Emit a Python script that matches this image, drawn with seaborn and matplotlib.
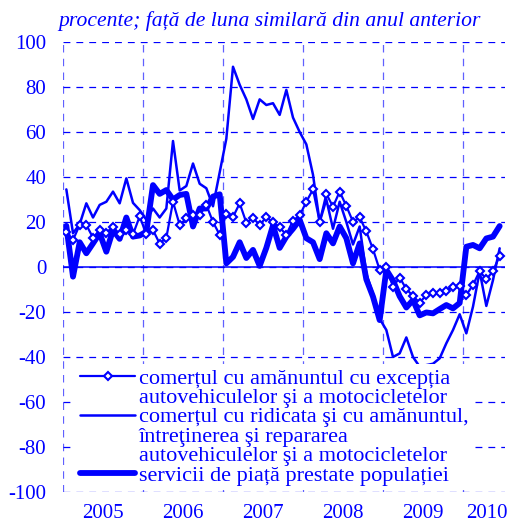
import numpy as np
import pandas as pd
import matplotlib
matplotlib.use("Agg")
import matplotlib.pyplot as plt
import seaborn as sns
from matplotlib.lines import Line2D

# ===============================
# DATA (monthly, Jan 2005 - Jun 2010, % y/y)
# ===============================
start_year = 2005
n_months = 66

retail_excl_auto = [
    15.6, 12, 18.7, 18.7, 13, 16.4, 15.3, 17.8, 14.6, 16.4, 14.5, 22.5,
    14.5, 16.4, 10.4, 13, 29, 18.7, 21.6, 23.1, 23.1, 27.6, 20, 14.3,
    23.7, 22.2, 28.3, 19.7, 21.8, 18.7, 22.2, 19.8, 17.6, 14.3, 20.6, 22.9,
    29, 34.5, 20.1, 32.5, 26.8, 33.5, 27.1, 20.1, 22.1, 15.8, 7.9, -1.3,
    0.1, -8.7, -4.7, -9.8, -12.9, -15.9, -12.4, -11.7, -11.7, -10.5, -8.7, -8.3,
    -12.4, -8, -1.8, -5.5, -1.8, 5,
]
wholesale_retail_auto = [
    34.5, 15, 19, 28.3, 22, 27.6, 29, 33.5, 28.3, 39.4, 28.5, 25.3,
    21, 26, 22, 26, 56, 34, 36, 46, 37, 35, 27, 42,
    57, 89, 81, 74.5, 65.8, 74.5, 72, 72.8, 67.6, 78.7, 66.4, 60,
    54.5, 41, 20, 30, 17, 29, 20, 10, 18, -3, -12, -23,
    -28, -40, -38.4, -31.3, -40, -44.3, -43.6, -43, -40.6, -33.9, -28, -21,
    -29.5, -17.6, -2, -17.3, -5.8, 8.3,
]
market_services = [
    18.3, -4.3, 11, 6.1, 10.5, 15, 6.8, 16.4, 12.5, 22, 13.5, 14,
    15.7, 36.4, 32.5, 34.2, 30, 32, 32.5, 18, 26, 26, 31.3, 32.3,
    1.6, 4.5, 11, 4, 7.6, 0.5, 8.5, 18.5, 8.5, 13.5, 17, 21,
    12.8, 11, 3.5, 15, 10.5, 18, 12.8, 1.6, 10.5, -5.5, -13.2, -23.6,
    -1.3, -6, -13, -18, -14.7, -21.5, -20.2, -20.6, -18.7, -16.9, -18.4, -16,
    9, 9.8, 8.3, 12.7, 13.5, 18.2,
]

year_labels = ["2005", "2006", "2007", "2008", "2009", "2010"]
year_label_pos = [2005.5, 2006.5, 2007.5, 2008.5, 2009.5, 2010.3]
year_bounds = [2005, 2006, 2007, 2008, 2009, 2010]
y_ticks = list(range(-100, 101, 20))

labels = [
    "comerțul cu amănuntul cu excepția",
    "autovehiculelor şi a motocicletelor",
    "comerțul cu ridicata şi cu amănuntul,",
    "întreţinerea şi repararea",
    "autovehiculelor şi a motocicletelor",
    "servicii de piață prestate populației",
]
title = "procente; față de luna similară din anul anterior"

df = pd.DataFrame({
    "t": start_year + (np.arange(n_months) + 0.5) / 12,
    "retail": retail_excl_auto,
    "wholesale": wholesale_retail_auto,
    "services": market_services,
})

# ===============================
# STYLE
# ===============================
sns.set_theme(style="white")
plt.rcParams["font.family"] = ["Liberation Serif", "DejaVu Serif"]
BLUE = "#0000FF"
FS = 15

fig = plt.figure(figsize=(5.18, 5.25), dpi=100)
ax = fig.add_axes([63 / 518, 1 - 492 / 525, 442 / 518, 450 / 525])

sns.lineplot(data=df, x="t", y="services", ax=ax, color=BLUE, lw=4.2,
             solid_joinstyle="round", solid_capstyle="round", zorder=2)
sns.lineplot(data=df, x="t", y="wholesale", ax=ax, color=BLUE, lw=1.8,
             solid_joinstyle="round", zorder=3)
sns.lineplot(data=df, x="t", y="retail", ax=ax, color=BLUE, lw=1.6,
             marker="D", markersize=4.5, markerfacecolor="white",
             markeredgecolor=BLUE, markeredgewidth=1.5, zorder=4)

ax.set_xlim(2005, 2005 + 442 / 80)
ax.set_ylim(-100, 100)
ax.set_xlabel("")
ax.set_ylabel("")
for s in ax.spines.values():
    s.set_visible(False)

ax.set_yticks(y_ticks)
ax.set_yticklabels([str(v) for v in y_ticks])
ax.set_xticks(year_label_pos)
ax.set_xticklabels(year_labels)
ax.set_xticks(year_bounds, minor=True)
ax.tick_params(axis="both", which="both", length=0, labelsize=FS, labelcolor=BLUE)
ax.tick_params(axis="y", pad=12)
ax.tick_params(axis="x", pad=9)

ax.grid(axis="y", which="major", color=BLUE, lw=0.9, linestyle=(0, (5.5, 4.8)))
ax.grid(axis="x", which="minor", color="#6060FF", lw=0.9, linestyle=(0, (6, 5)))
ax.grid(axis="x", which="major", visible=False)
ax.axhline(0, color=BLUE, lw=1.1, zorder=1)

fig.text(58 / 518, 1 - 26 / 525, title, color=BLUE, fontsize=15.6,
         style="italic", va="baseline", ha="left")

# ===============================
# LEGEND
# ===============================
blank = Line2D([], [], color="none")
handles = [
    Line2D([], [], color=BLUE, lw=1.6, marker="D", markersize=4.5,
           markerfacecolor="white", markeredgecolor=BLUE, markeredgewidth=1.5),
    blank,
    Line2D([], [], color=BLUE, lw=1.8),
    blank,
    blank,
    Line2D([], [], color=BLUE, lw=4.2),
]
leg = ax.legend(handles=handles, labels=labels, loc="lower left",
                bbox_to_anchor=(0.028, 0.004), frameon=True, fancybox=False,
                edgecolor="none", facecolor="white", framealpha=1,
                fontsize=16, handlelength=2.5, handletextpad=0.15,
                labelspacing=-0.05, borderpad=0.2, borderaxespad=0)
for t in leg.get_texts():
    t.set_color(BLUE)

fig.savefig("out.png", dpi=100)
